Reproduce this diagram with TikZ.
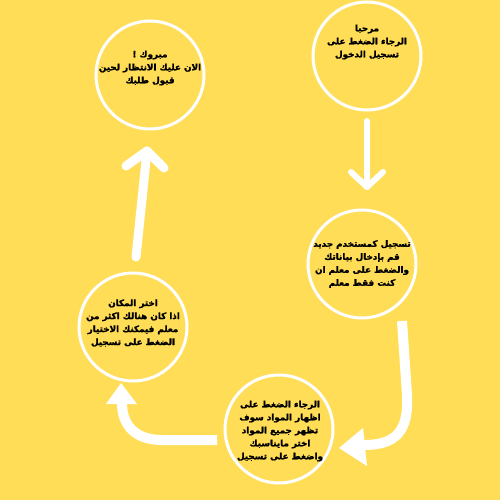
\documentclass[tikz,border=0pt]{standalone}
\usepackage{fontspec}
\usetikzlibrary{calc}
\newfontfamily\arabicfont[Script=Arabic,FakeBold=1.6]{DejaVu Sans}
\TeXXeTstate=1
\definecolor{bgyellow}{RGB}{255,221,87}
\tikzset{
  ring/.style={circle,draw=white,line width=3pt,minimum size=108pt,inner sep=0pt},
  txt/.style={align=center,text=black,font=\arabicfont\bfseries\fontsize{8.8}{13}\selectfont,inner sep=0pt},
  thinarrow/.style={draw=white,line width=6pt,line cap=round,line join=round},
  midarrow/.style={draw=white,line width=9pt,line cap=round,line join=round},
  fatarrow/.style={draw=white,line width=10pt},
  headfill/.style={fill=white}
}
\begin{document}
\begin{tikzpicture}[x=1pt,y=-1pt]
\fill[bgyellow] (0,0) rectangle (500,500);
\useasboundingbox (0,0) rectangle (500,500);

% circles
\node[ring] (c1) at (150,75) {};
\node[ring] (c2) at (367,56) {};
\node[ring] (c3) at (362,264) {};
\node[ring] (c4) at (279,429) {};
\node[ring] (c5) at (133,327) {};

% texts
\node[txt] (t1) at (150,68) {\beginR مبروك !\endR\\\beginR الان عليك الانتظار لحين\endR\\\beginR قبول طلبك\endR};
\node[txt] (t2) at (367,42) {\beginR مرحبا\endR\\\beginR الرجاء الضغط على\endR\\\beginR تسجيل الدخول\endR};
\node[txt] (t3) at (362,264) {\beginR تسجيل كمستخدم جديد\endR\\\beginR قم بإدخال بياناتك\endR\\\beginR والضغط على معلم ان\endR\\\beginR كنت فقط معلم\endR};
\node[txt] (t4) at (280,431) {\beginR الرجاء الضغط على\endR\\\beginR اظهار المواد سوف\endR\\\beginR تظهر جميع المواد\endR\\\beginR اختر مايناسبك\endR\\\beginR واضغط على تسجيل\endR};
\node[txt] (t5) at (133,323) {\beginR اختر المكان\endR\\\beginR اذا كان هنالك اكثر من\endR\\\beginR معلم فيمكنك الاختيار\endR\\\beginR الضغط على تسجيل\endR};

% arrow 1: c2 -> c3
\coordinate (a1s) at (367,121);
\coordinate (a1e) at (367,187);
\draw[thinarrow] (a1s) -- (a1e);
\draw[thinarrow] ($(a1e)+(-16,-15)$) -- (a1e) -- ($(a1e)+(16,-15)$);

% arrow 2: c3 -> c4
\coordinate (a2s) at (402,321);
\coordinate (a2e) at (364,445);
\coordinate (a2t) at (339,448);
\draw[fatarrow] (a2s) -- (407,395) .. controls (409,432) and (395,445) .. (a2e);
\fill[headfill] (a2t) -- (363,428) -- (367,466) -- cycle;

% arrow 3: c4 -> c5
\coordinate (a3s) at (217,440);
\coordinate (a3e) at (122,403);
\coordinate (a3t) at (121,383);
\draw[fatarrow] (a3s) -- (162,440) .. controls (136,440) and (122,426) .. (a3e);
\fill[headfill] (a3t) -- (106,404) -- (137,404) -- cycle;

% arrow 4: c5 -> c1
\coordinate (a4s) at (136,257);
\coordinate (a4e) at (147,151);
\draw[midarrow] (a4s) -- (a4e);
\draw[midarrow] ($(a4e)+(-21,15)$) -- (a4e) -- ($(a4e)+(17,17)$);
\end{tikzpicture}
\end{document}
